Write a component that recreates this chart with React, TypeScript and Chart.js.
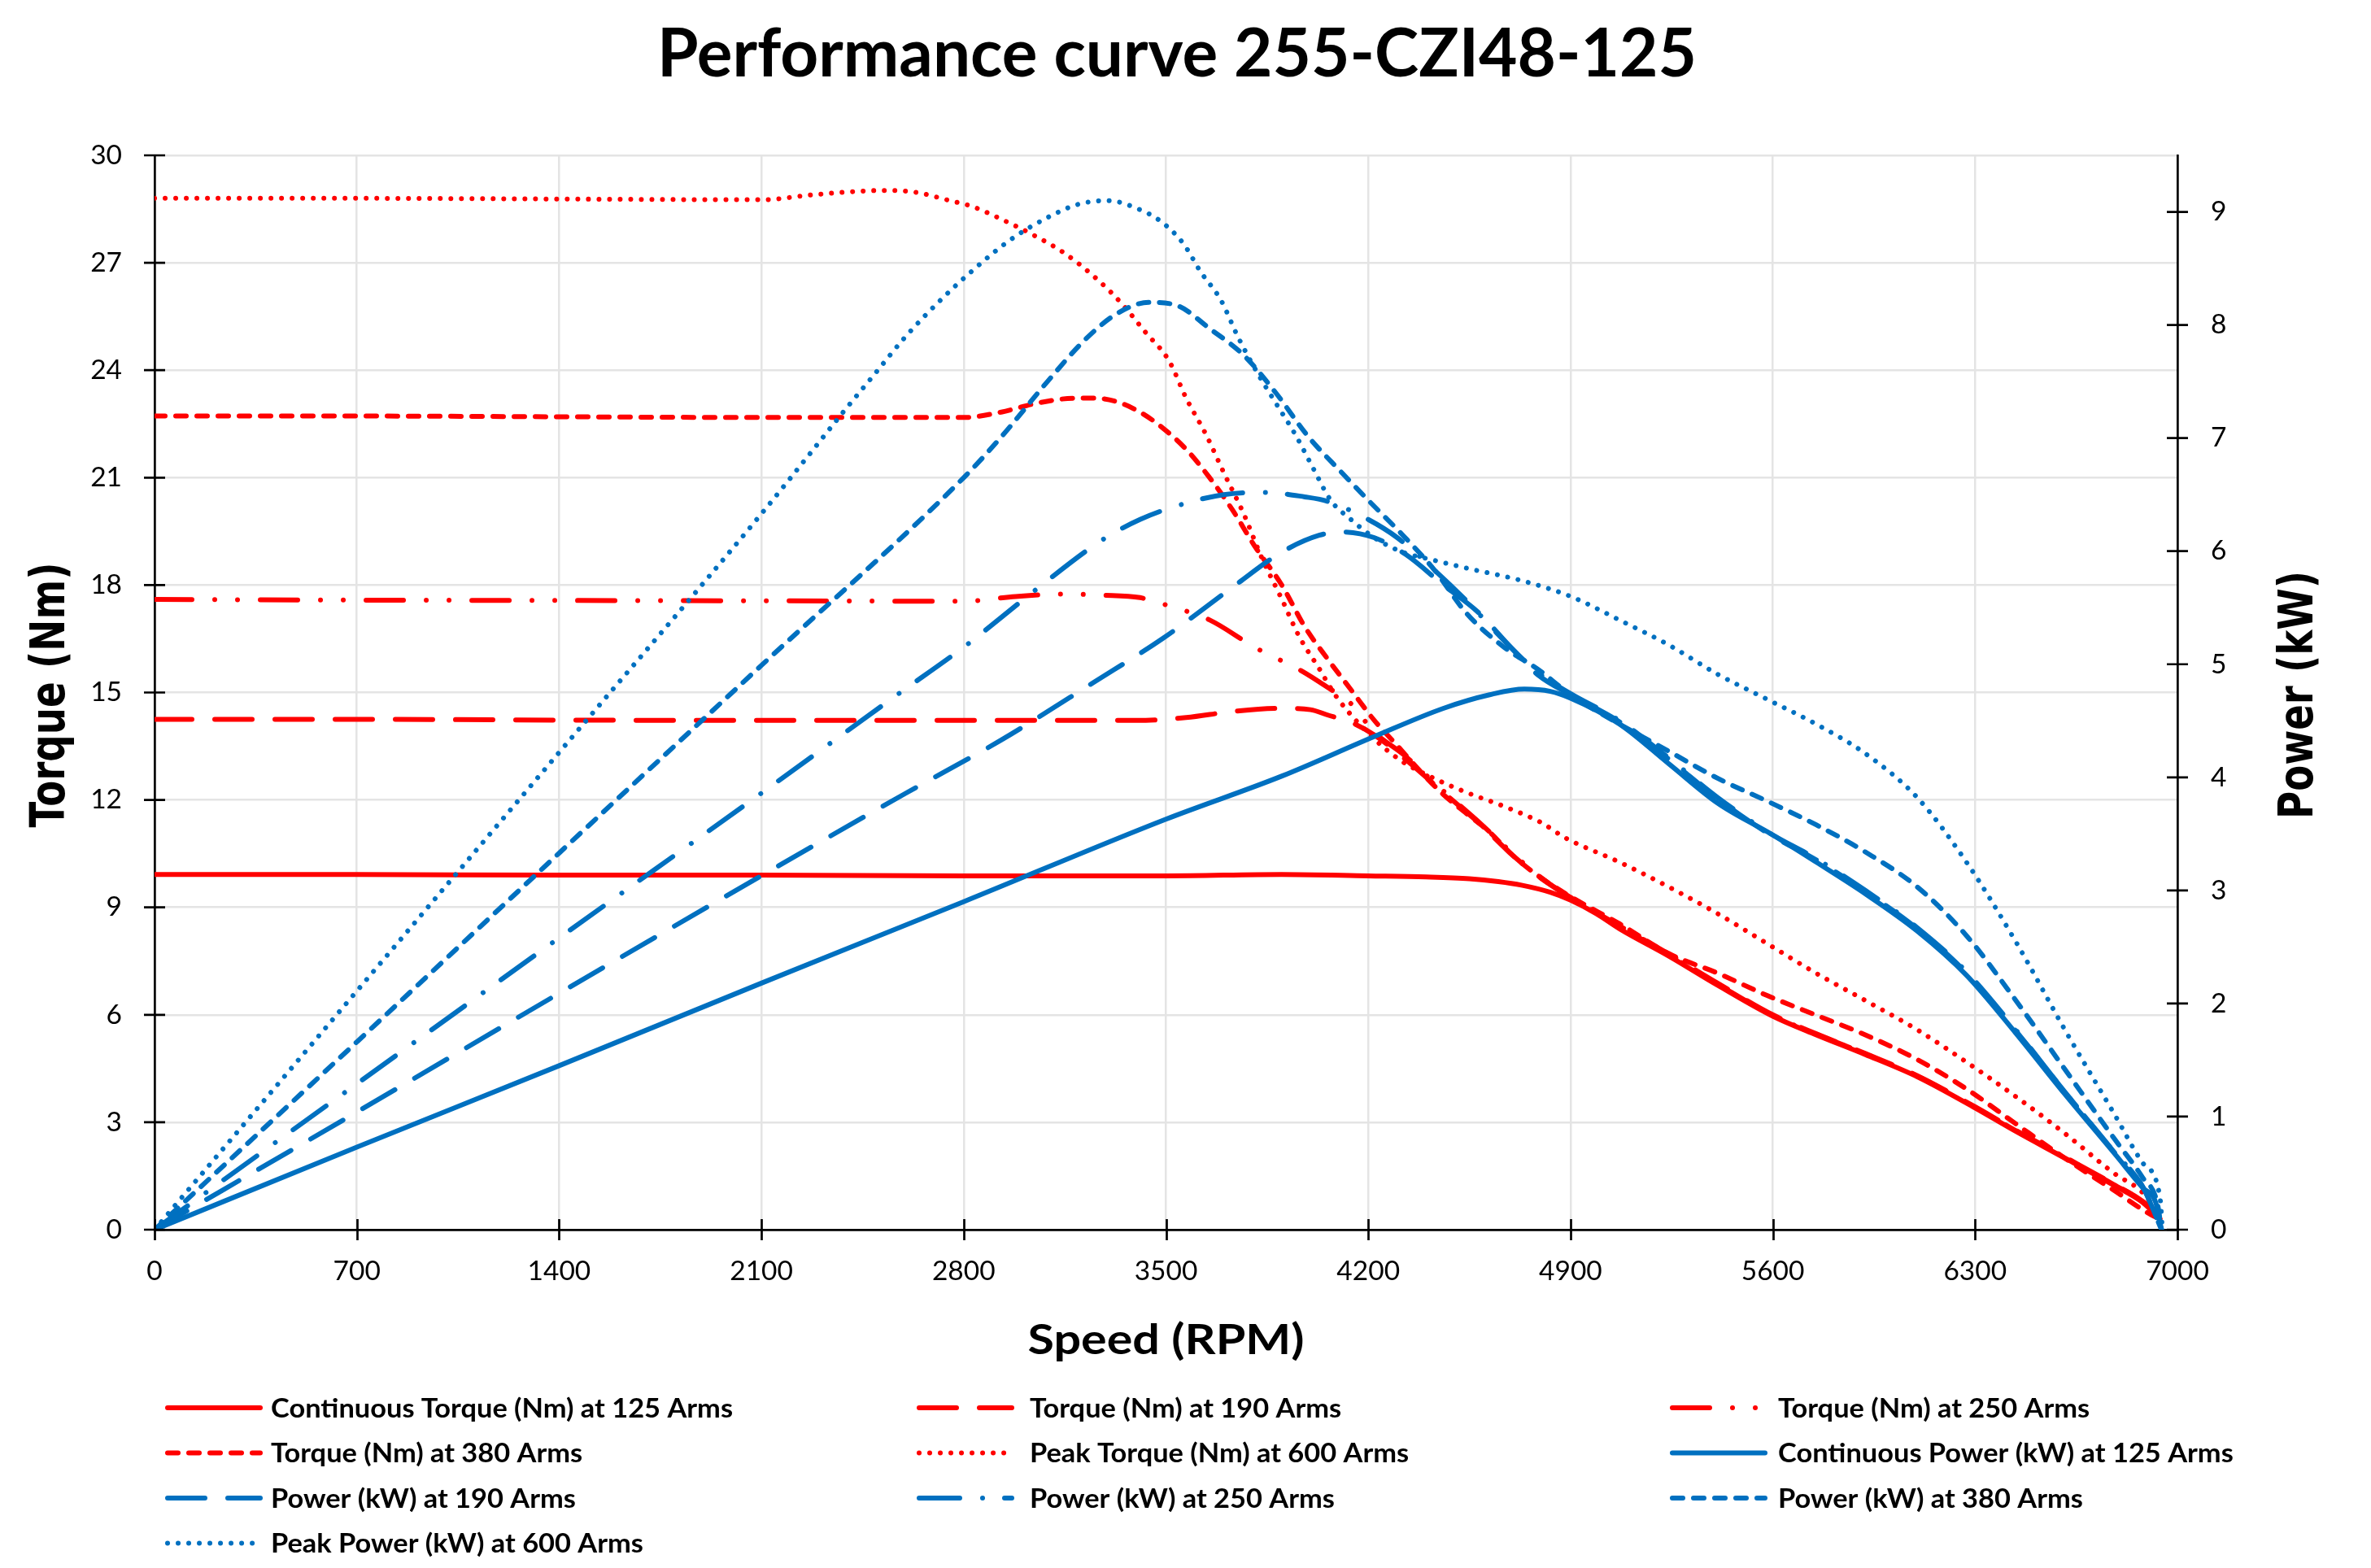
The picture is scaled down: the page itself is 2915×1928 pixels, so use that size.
import React, { useEffect, useRef } from 'react';
import { Chart, registerables } from 'chart.js';

Chart.register(...registerables);

// ---------------- data ----------------
const TITLE = 'Performance curve 255-CZI48-125';
const X_TITLE = 'Speed (RPM)';
const Y_TITLE = 'Torque (Nm)';
const Y2_TITLE = 'Power (kW)';

const X_MIN = 0, X_MAX = 7000, X_STEP = 700;
const Y_MIN = 0, Y_MAX = 30, Y_STEP = 3;
const Y2_MIN = 0, Y2_MAX = 9.5, Y2_STEP = 1;

const SERIES_LABELS = [
  'Continuous Torque (Nm) at 125 Arms',
  'Torque (Nm) at 190 Arms',
  'Torque (Nm) at 250 Arms',
  'Torque (Nm) at 380 Arms',
  'Peak Torque (Nm) at 600 Arms',
  'Continuous Power (kW) at 125 Arms',
  'Power (kW) at 190 Arms',
  'Power (kW) at 250 Arms',
  'Power (kW) at 380 Arms',
  'Peak Power (kW) at 600 Arms',
];

// Continuous torque 125 Arms
const CT_RPM = [0, 700, 1400, 2100, 2800, 3500, 3900, 4200, 4400, 4550, 4650, 4730, 4830, 4900, 4990, 5070, 5240, 5410, 5600, 5750, 5920, 6100, 6300, 6440, 6610, 6780, 6880, 6940];
const CT_NM = [9.92, 9.92, 9.9, 9.9, 9.88, 9.88, 9.92, 9.88, 9.85, 9.8, 9.72, 9.62, 9.42, 9.2, 8.82, 8.4, 7.64, 6.82, 5.96, 5.44, 4.89, 4.27, 3.4, 2.75, 2.0, 1.24, 0.76, 0.3];

// Torque 190 Arms
const T190_RPM = [0, 700, 1400, 2100, 2800, 3400, 3570, 3730, 3900, 4000, 4060, 4140, 4220, 4320, 4460, 4590, 4700, 4800, 4900, 5070, 5240, 5410, 5600, 5750, 5920, 6100, 6300, 6440, 6610, 6780, 6880, 6940];
const T190_NM = [14.25, 14.25, 14.23, 14.22, 14.22, 14.22, 14.3, 14.47, 14.56, 14.52, 14.37, 14.17, 13.82, 13.19, 12.21, 11.3, 10.45, 9.8, 9.28, 8.48, 7.7, 6.88, 6.0, 5.47, 4.92, 4.3, 3.43, 2.78, 2.03, 1.27, 0.79, 0.32];

// Torque 250 Arms
const T250_RPM = [0, 700, 1400, 2100, 2800, 2980, 3140, 3280, 3410, 3510, 3650, 3810, 3970, 4060, 4140, 4220, 4320, 4460, 4590, 4700, 4800, 4900, 5070, 5240, 5410, 5600, 5750, 5920, 6100, 6300, 6440, 6610, 6780, 6880, 6940];
const T250_NM = [17.6, 17.58, 17.57, 17.56, 17.55, 17.68, 17.75, 17.72, 17.65, 17.42, 17.03, 16.25, 15.6, 15.14, 14.69, 13.9, 13.28, 12.25, 11.33, 10.5, 9.82, 9.26, 8.46, 7.67, 6.85, 5.98, 5.46, 4.91, 4.29, 3.42, 2.77, 2.02, 1.26, 0.78, 0.31];

// Torque 380 Arms
const T380_RPM = [0, 700, 1400, 2100, 2800, 2930, 3060, 3190, 3250, 3330, 3410, 3490, 3570, 3650, 3730, 3810, 3900, 3980, 4060, 4140, 4220, 4300, 4380, 4460, 4540, 4620, 4700, 4790, 4900, 5070, 5240, 5410, 5580, 5750, 5920, 6100, 6270, 6440, 6610, 6780, 6910, 6940];
const T380_NM = [22.72, 22.72, 22.7, 22.68, 22.68, 22.83, 23.09, 23.22, 23.22, 23.12, 22.83, 22.38, 21.79, 21.01, 20.1, 19.05, 18.01, 16.84, 15.93, 15.08, 14.23, 13.52, 12.8, 12.15, 11.62, 11.1, 10.45, 9.87, 9.3, 8.54, 7.71, 7.16, 6.54, 5.99, 5.44, 4.75, 3.93, 2.96, 2.0, 1.1, 0.41, 0.3];

// Peak torque 600 Arms
const TPK_RPM = [0, 700, 1400, 2100, 2280, 2470, 2550, 2640, 2750, 2830, 2940, 3040, 3150, 3270, 3350, 3430, 3510, 3570, 3640, 3700, 3770, 3830, 3900, 3960, 4030, 4090, 4220, 4320, 4410, 4540, 4670, 4800, 4880, 5070, 5240, 5410, 5580, 5750, 5920, 6100, 6270, 6440, 6610, 6780, 6880, 6930];
const TPK_NM = [28.8, 28.8, 28.78, 28.76, 28.9, 29.01, 29.02, 28.96, 28.74, 28.57, 28.18, 27.78, 27.26, 26.48, 25.83, 25.05, 24.27, 23.22, 22.18, 21.14, 19.97, 18.79, 17.62, 16.58, 15.67, 14.88, 13.71, 13.06, 12.67, 12.21, 11.82, 11.36, 10.95, 10.26, 9.57, 8.82, 7.99, 7.16, 6.4, 5.58, 4.68, 3.72, 2.69, 1.58, 1.03, 0.48];

// Continuous power 125 Arms
const CP_RPM = [0, 700, 1400, 2100, 2800, 3500, 3900, 4220, 4460, 4620, 4740, 4830, 4900, 5070, 5240, 5410, 5600, 5750, 5920, 6100, 6270, 6440, 6610, 6780, 6880, 6925, 6945];
const CP_KW = [0, 0.73, 1.45, 2.18, 2.9, 3.63, 4.01, 4.36, 4.61, 4.73, 4.78, 4.76, 4.7, 4.47, 4.12, 3.77, 3.49, 3.25, 2.97, 2.64, 2.25, 1.74, 1.2, 0.68, 0.37, 0.24, 0];

// Power 190 Arms
const P190_RPM = [0, 700, 1400, 2100, 2600, 2930, 3250, 3490, 3730, 3900, 4030, 4110, 4220, 4330, 4460, 4580, 4700, 4790, 4900, 5070, 5240, 5410, 5580, 5750, 5920, 6100, 6270, 6440, 6610, 6780, 6880, 6945];
const P190_KW = [0, 1.04, 2.09, 3.13, 3.86, 4.33, 4.84, 5.23, 5.68, 5.99, 6.14, 6.17, 6.12, 5.97, 5.7, 5.46, 5.13, 4.9, 4.73, 4.49, 4.16, 3.81, 3.51, 3.27, 2.99, 2.66, 2.27, 1.76, 1.22, 0.69, 0.38, 0];

// Power 250 Arms
const P250_RPM = [0, 700, 1400, 2100, 2570, 2810, 3040, 3280, 3410, 3550, 3700, 3840, 3980, 4060, 4200, 4300, 4430, 4540, 4670, 4790, 4900, 5070, 5240, 5410, 5580, 5750, 5920, 6100, 6270, 6440, 6610, 6780, 6880, 6945];
const P250_KW = [0, 1.29, 2.58, 3.86, 4.73, 5.17, 5.64, 6.1, 6.28, 6.41, 6.5, 6.52, 6.48, 6.44, 6.28, 6.12, 5.83, 5.56, 5.21, 4.92, 4.74, 4.5, 4.17, 3.82, 3.52, 3.28, 3.0, 2.67, 2.28, 1.77, 1.22, 0.69, 0.38, 0];

// Power 380 Arms
const P380_RPM = [0, 700, 1400, 2100, 2800, 2930, 3090, 3220, 3330, 3440, 3540, 3650, 3770, 3880, 3990, 4110, 4200, 4320, 4430, 4540, 4670, 4790, 4900, 5070, 5240, 5410, 5580, 5750, 5920, 6100, 6270, 6440, 6610, 6780, 6880, 6930, 6945];
const P380_KW = [0, 1.66, 3.33, 4.99, 6.65, 7.01, 7.5, 7.87, 8.1, 8.2, 8.17, 7.97, 7.73, 7.4, 7.02, 6.69, 6.45, 6.14, 5.83, 5.45, 5.15, 4.95, 4.73, 4.47, 4.23, 3.99, 3.79, 3.58, 3.34, 3.03, 2.6, 2.03, 1.42, 0.81, 0.46, 0.24, 0];

// Peak power 600 Arms
const PPK_RPM = [0, 700, 1400, 2100, 2280, 2380, 2490, 2600, 2720, 2830, 2960, 3090, 3200, 3300, 3400, 3480, 3560, 3620, 3690, 3750, 3820, 3880, 3950, 4010, 4070, 4140, 4220, 4320, 4410, 4540, 4730, 4900, 5070, 5240, 5410, 5580, 5750, 5920, 6100, 6270, 6440, 6610, 6780, 6880, 6940, 6948];
const PPK_KW = [0, 2.11, 4.22, 6.33, 6.9, 7.22, 7.56, 7.9, 8.22, 8.48, 8.75, 8.95, 9.07, 9.1, 9.03, 8.92, 8.72, 8.47, 8.22, 7.89, 7.56, 7.31, 7.02, 6.73, 6.45, 6.28, 6.12, 5.99, 5.93, 5.85, 5.74, 5.6, 5.39, 5.17, 4.91, 4.69, 4.47, 4.21, 3.82, 3.25, 2.55, 1.77, 1.03, 0.59, 0.28, 0];

// ---------------- layout / style ----------------
const W = 2915;
const H = 1928;
const AREA = { left: 190, right: 2677, top: 191, bottom: 1512 };
const X_AXIS_H = 100;

const RED = '#FF0000';
const BLUE = '#0070C0';

const SERIES = [
  { xs: CT_RPM, ys: CT_NM, axis: 'y', color: RED, width: 6, dash: [] as number[] },
  { xs: T190_RPM, ys: T190_NM, axis: 'y', color: RED, width: 6, dash: [46, 28] },
  { xs: T250_RPM, ys: T250_NM, axis: 'y', color: RED, width: 6, dash: [46, 28, 0.01, 28, 0.01, 28] },
  { xs: T380_RPM, ys: T380_NM, axis: 'y', color: RED, width: 6, dash: [13, 13] },
  { xs: TPK_RPM, ys: TPK_NM, axis: 'y', color: RED, width: 6, dash: [0.01, 13] },
  { xs: CP_RPM, ys: CP_KW, axis: 'y1', color: BLUE, width: 6, dash: [] as number[] },
  { xs: P190_RPM, ys: P190_KW, axis: 'y1', color: BLUE, width: 6, dash: [46, 28] },
  { xs: P250_RPM, ys: P250_KW, axis: 'y1', color: BLUE, width: 6, dash: [50, 28, 0.01, 27] },
  { xs: P380_RPM, ys: P380_KW, axis: 'y1', color: BLUE, width: 6, dash: [13, 13] },
  { xs: PPK_RPM, ys: PPK_KW, axis: 'y1', color: BLUE, width: 6, dash: [0.01, 13] },
];

// legend grid: [row, col] for each series
const LEGEND_POS = [
  [0, 0], [0, 1], [0, 2],
  [1, 0], [1, 1], [1, 2],
  [2, 0], [2, 1], [2, 2],
  [3, 0],
];
const LEG_LINE_X = [203, 1127, 2053];
const LEG_TEXT_X = [333, 1266, 2186];
const LEG_ROW_Y = [1731, 1786.5, 1842, 1897.5];

function drawScaledText(
  ctx: CanvasRenderingContext2D,
  text: string,
  font: string,
  x: number,
  y: number,
  targetWidth: number,
  rotate: number,
  align: CanvasTextAlign,
) {
  ctx.save();
  ctx.font = font;
  const w = ctx.measureText(text).width;
  const s = targetWidth / w;
  ctx.translate(x, y);
  if (rotate) ctx.rotate(rotate);
  ctx.scale(s, 1);
  ctx.textAlign = align;
  ctx.textBaseline = 'alphabetic';
  ctx.fillStyle = '#000';
  ctx.fillText(text, 0, 0);
  ctx.restore();
}

const decorPlugin = {
  id: 'decor',
  afterDraw(chart: any) {
    const ctx: CanvasRenderingContext2D = chart.ctx;
    const { left, right, top, bottom } = chart.chartArea;
    const sx = chart.scales.x;
    const sy = chart.scales.y;
    const sy2 = chart.scales.y1;
    ctx.save();
    // crossing tick marks
    ctx.strokeStyle = '#000';
    ctx.lineWidth = 2.7;
    ctx.lineCap = 'butt';
    ctx.setLineDash([]);
    ctx.beginPath();
    sx.ticks.forEach((t: any) => {
      const px = Math.round(sx.getPixelForValue(t.value)) + 0.5;
      ctx.moveTo(px, bottom - 13);
      ctx.lineTo(px, bottom + 13);
    });
    sy.ticks.forEach((t: any) => {
      const py = sy.getPixelForValue(t.value);
      ctx.moveTo(left - 13, py);
      ctx.lineTo(left + 13, py);
    });
    sy2.ticks.forEach((t: any) => {
      const py = sy2.getPixelForValue(t.value);
      ctx.moveTo(right - 13, py);
      ctx.lineTo(right + 13, py);
    });
    ctx.stroke();
    ctx.restore();

    // titles
    drawScaledText(ctx, TITLE, 'bold 82px Lato', 1447, 94, 1278, 0, 'center');
    drawScaledText(ctx, X_TITLE, 'bold 52px Lato', (left + right) / 2, 1665, 340, 0, 'center');
    const midY = (top + bottom) / 2 + 3;
    drawScaledText(ctx, Y_TITLE, 'bold 58px "DejaVu Sans"', 79, midY, 326, -Math.PI / 2, 'center');
    drawScaledText(ctx, Y2_TITLE, 'bold 58px "DejaVu Sans"', 2843, midY, 305, -Math.PI / 2, 'center');

    // legend
    ctx.save();
    const legFont = 'bold 32.5px Lato';
    ctx.font = legFont;
    const legScale = 568 / ctx.measureText(SERIES_LABELS[0]).width;
    SERIES.forEach((s, i) => {
      const [row, col] = LEGEND_POS[i];
      const cy = LEG_ROW_Y[row];
      const x0 = LEG_LINE_X[col];
      ctx.save();
      ctx.strokeStyle = s.color;
      ctx.lineWidth = s.width;
      ctx.lineCap = 'round';
      ctx.setLineDash(s.dash);
      ctx.beginPath();
      ctx.moveTo(x0 + 3, cy);
      ctx.lineTo(x0 + 117, cy);
      ctx.stroke();
      ctx.restore();

      ctx.save();
      ctx.font = legFont;
      ctx.fillStyle = '#000';
      ctx.textAlign = 'left';
      ctx.textBaseline = 'alphabetic';
      ctx.translate(LEG_TEXT_X[col], cy + 11.5);
      ctx.scale(legScale, 1);
      ctx.fillText(SERIES_LABELS[i], 0, 0);
      ctx.restore();
    });
    ctx.restore();
  },
};

const GRID_COLOR = '#e4e4e4';
const TICK_FONT = { family: 'Lato', size: 33.5 };
const plainTick = (v: any) => String(v);

export default function App() {
  const ref = useRef<HTMLCanvasElement>(null);

  useEffect(() => {
    const canvas = ref.current;
    if (!canvas) return;
    const n = SERIES.length;
    const chart = new Chart(canvas, {
      type: 'line',
      data: {
        datasets: SERIES.map((s, i) => ({
          label: SERIES_LABELS[i],
          data: s.xs.map((x, j) => ({ x, y: s.ys[j] })),
          yAxisID: s.axis,
          borderColor: s.color,
          backgroundColor: s.color,
          borderWidth: s.width,
          borderDash: s.dash,
          borderCapStyle: 'round',
          borderJoinStyle: 'round',
          pointRadius: 0,
          pointHoverRadius: 0,
          fill: false,
          cubicInterpolationMode: 'monotone',
          order: n - i,
        })),
      } as any,
      options: {
        animation: false,
        responsive: false,
        devicePixelRatio: 1,
        events: [],
        layout: {
          padding: { left: 0, right: 0, top: AREA.top, bottom: H - AREA.bottom - X_AXIS_H },
        },
        plugins: {
          legend: { display: false },
          title: { display: false },
          tooltip: { enabled: false },
        },
        scales: {
          x: {
            type: 'linear',
            min: X_MIN,
            max: X_MAX,
            ticks: {
              stepSize: X_STEP,
              autoSkip: false,
              maxRotation: 0,
              minRotation: 0,
              padding: 31,
              color: '#000',
              font: TICK_FONT,
              callback: plainTick,
            },
            grid: { color: GRID_COLOR, lineWidth: 2.5, drawTicks: false },
            border: { display: true, color: '#000', width: 2.7 },
            afterFit: (s: any) => { s.height = X_AXIS_H; },
          },
          y: {
            type: 'linear',
            position: 'left',
            min: Y_MIN,
            max: Y_MAX,
            ticks: { stepSize: Y_STEP, padding: 40, color: '#000', font: TICK_FONT, maxTicksLimit: 20, callback: plainTick },
            grid: { color: GRID_COLOR, lineWidth: 2.5, drawTicks: false },
            border: { display: true, color: '#000', width: 2.7 },
            afterFit: (s: any) => { s.width = AREA.left; },
          },
          y1: {
            type: 'linear',
            position: 'right',
            min: Y2_MIN,
            max: Y2_MAX,
            ticks: { stepSize: Y2_STEP, padding: 41, color: '#000', font: TICK_FONT, maxTicksLimit: 20, callback: plainTick },
            grid: { display: true, drawOnChartArea: false, drawTicks: false },
            border: { display: true, color: '#000', width: 2.7 },
            afterBuildTicks: (s: any) => {
              s.ticks = s.ticks.filter((t: any) => Number.isInteger(t.value));
            },
            afterFit: (s: any) => { s.width = W - AREA.right; },
          },
        },
      } as any,
      plugins: [decorPlugin],
    });
    return () => chart.destroy();
  }, []);

  return (
    <div style={{ position: 'fixed', left: 0, top: 0, width: W, height: H, background: '#fff' }}>
      <canvas ref={ref} width={W} height={H} style={{ display: 'block', width: W, height: H }} />
    </div>
  );
}
